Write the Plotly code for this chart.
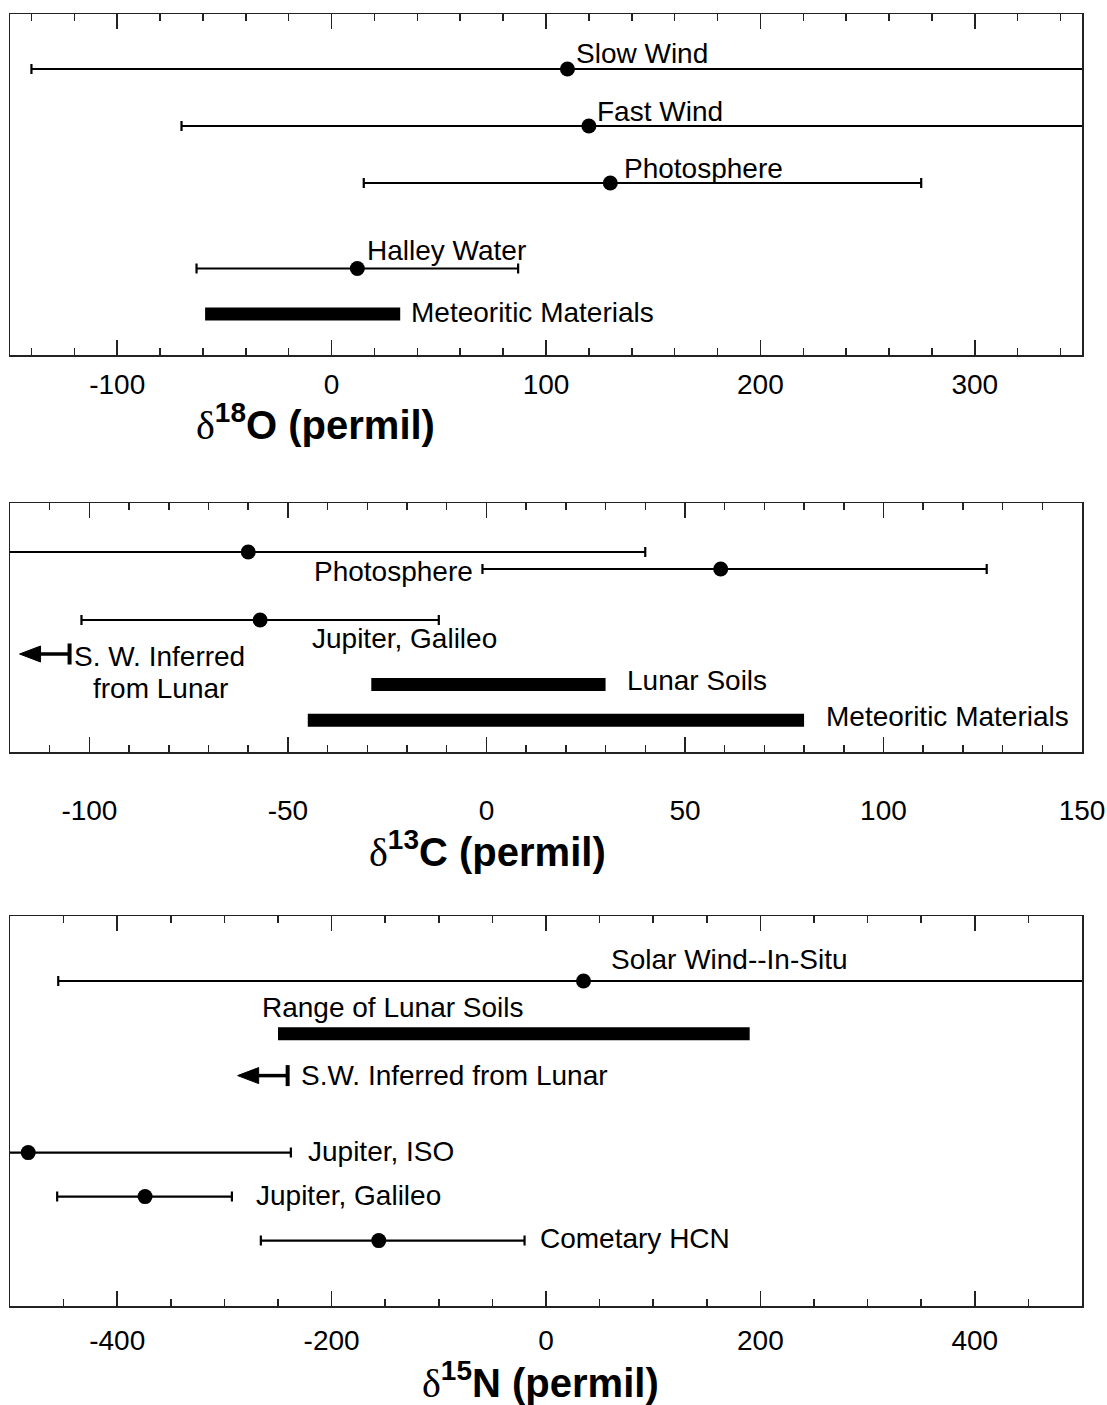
import plotly.graph_objects as go

FONT = "Liberation Sans, Arial, sans-serif"

# ---------------- Panel 1: delta 18O ----------------
o_names = ["Slow Wind", "Fast Wind", "Photosphere", "Halley Water"]
o_values = [110, 120, 130, 12]
o_err_minus = [250, 190, 115, 75]
o_err_plus = [250, 250, 145, 75]
o_lanes = [1, 2, 3, 4.5]
o_range_names = ["Meteoritic Materials"]
o_range_lo = [-59]
o_range_hi = [32]
o_range_lanes = [5.3]
o_ticks = [-100, 0, 100, 200, 300]

# ---------------- Panel 2: delta 13C ----------------
c_names = ["", "Photosphere", "Jupiter, Galileo"]
c_values = [-60, 59, -57]
c_err_minus = [100, 60, 45]
c_err_plus = [100, 67, 45]
c_lanes = [1, 1.5, 3]
c_limit_names = ["S. W. Inferred", "from Lunar"]
c_limit_values = [-105]
c_limit_lanes = [4]
c_range_names = ["Lunar Soils", "Meteoritic Materials"]
c_range_lo = [-29, -45]
c_range_hi = [30, 80]
c_range_lanes = [4.9, 5.95]
c_ticks = [-100, -50, 0, 50, 100, 150]

# ---------------- Panel 3: delta 15N ----------------
n_names = ["Solar Wind--In-Situ", "Jupiter, ISO", "Jupiter, Galileo", "Cometary HCN"]
n_values = [35, -483, -374, -156]
n_err_minus = [490, 245, 82, 110]
n_err_plus = [490, 245, 81, 136]
n_lanes = [1, 4.9, 5.9, 6.9]
n_range_names = ["Range of Lunar Soils"]
n_range_lo = [-250]
n_range_hi = [190]
n_range_lanes = [2.2]
n_limit_names = ["S.W. Inferred from Lunar"]
n_limit_values = [-241]
n_limit_lanes = [3.15]
n_ticks = [-400, -200, 0, 200, 400]

# ---------------- layout geometry (page pixels) ----------------
FW, FH = 1107, 1405
LEFT, RIGHT = 10, 1082
DELTA = "<span style='font-family:Liberation Serif;font-weight:normal'>δ</span>"
panels = [
    dict(xr=[-150, 350], ticks=o_ticks, minor=20, top=14, bottom=355, yr=[6.018, 0.035],
         standoff=4, title=DELTA + "<b><sup>18</sup>O (permil)</b>", tx=315, ty=422),
    dict(xr=[-120, 150], ticks=c_ticks, minor=10, top=503, bottom=752, yr=[6.882, -0.441],
         standoff=33, title=DELTA + "<b><sup>13</sup>C (permil)</b>", tx=488, ty=849),
    dict(xr=[-500, 500], ticks=n_ticks, minor=50, top=916, bottom=1306, yr=[8.386, -0.477],
         standoff=9, title=DELTA + "<b><sup>15</sup>N (permil)</b>", tx=540, ty=1380),
]

def ppx(p):
    return (RIGHT - LEFT) / (p["xr"][1] - p["xr"][0])

def ppl(p):
    return (p["bottom"] - p["top"]) / (p["yr"][0] - p["yr"][1])

fig = go.Figure()
AX = ["x", "x2", "x3"]
AY = ["y", "y2", "y3"]

def add_points(i, vals, lanes, em, ep):
    fig.add_trace(go.Scatter(
        x=vals, y=lanes, mode="markers", xaxis=AX[i], yaxis=AY[i],
        marker=dict(size=15, color="black"),
        error_x=dict(type="data", symmetric=False, array=ep, arrayminus=em,
                     thickness=2.2, width=5, color="black"),
        hoverinfo="skip"))

def add_ranges(i, lo, hi, lanes):
    for a, b, l in zip(lo, hi, lanes):
        fig.add_trace(go.Scatter(
            x=[a, b], y=[l, l], mode="lines", xaxis=AX[i], yaxis=AY[i],
            line=dict(color="black", width=13), hoverinfo="skip"))

def add_limits(i, vals, lanes):
    p = panels[i]
    length = 50 / ppx(p)
    head = 21 / ppx(p)
    half = 8 / ppl(p)
    for v, l in zip(vals, lanes):
        tip = v - length
        base = tip + head
        fig.add_trace(go.Scatter(
            x=[v, base], y=[l, l], mode="lines", xaxis=AX[i], yaxis=AY[i],
            line=dict(color="black", width=3.5), hoverinfo="skip"))
        fig.add_trace(go.Scatter(
            x=[tip, base, base, tip], y=[l, l - half, l + half, l], mode="lines",
            fill="toself", fillcolor="black", xaxis=AX[i], yaxis=AY[i],
            line=dict(color="black", width=1), hoverinfo="skip"))
        fig.add_trace(go.Scatter(
            x=[v], y=[l], mode="markers", xaxis=AX[i], yaxis=AY[i],
            marker=dict(symbol="line-ns", size=15, line=dict(width=4, color="black")),
            hoverinfo="skip"))

add_points(0, o_values, o_lanes, o_err_minus, o_err_plus)
add_ranges(0, o_range_lo, o_range_hi, o_range_lanes)

add_points(1, c_values, c_lanes, c_err_minus, c_err_plus)
add_ranges(1, c_range_lo, c_range_hi, c_range_lanes)
add_limits(1, c_limit_values, c_limit_lanes)

add_points(2, n_values, n_lanes, n_err_minus, n_err_plus)
add_ranges(2, n_range_lo, n_range_hi, n_range_lanes)
add_limits(2, n_limit_values, n_limit_lanes)

# ---------------- text labels ----------------
LBL = 28
labels = [
    (0, o_names[0], 113, 0.72, "left"),
    (0, o_names[1], 123, 1.74, "left"),
    (0, o_names[2], 135.5, 2.74, "left"),
    (0, o_names[3], 15.5, 4.18, "left"),
    (0, o_range_names[0], 36, 5.28, "left"),
    (1, c_names[1], -3, 1.56, "right"),
    (1, c_names[2], -44.5, 3.53, "left"),
    (1, c_limit_names[0], -104.3, 4.06, "left"),
    (1, c_limit_names[1], -82.2, 5.0, "center"),
    (1, c_range_names[0], 35, 4.78, "left"),
    (1, c_range_names[1], 85, 5.83, "left"),
    (2, n_names[0], 58.8, 0.52, "left"),
    (2, n_range_names[0], -267, 1.61, "left"),
    (2, n_limit_names[0], -230.5, 3.15, "left"),
    (2, n_names[1], -224, 4.88, "left"),
    (2, n_names[2], -272.5, 5.88, "left"),
    (2, n_names[3], -7.5, 6.85, "left"),
]
annotations = []
for i, t, x, y, xa in labels:
    annotations.append(dict(text=t, x=x, y=y, xref=AX[i], yref=AY[i], xanchor=xa,
                            yanchor="middle", showarrow=False,
                            font=dict(family=FONT, size=LBL, color="black")))
for p in panels:
    annotations.append(dict(text=p["title"], x=p["tx"] / FW, y=1 - p["ty"] / FH,
                            xref="paper", yref="paper", xanchor="center", yanchor="middle",
                            showarrow=False, font=dict(family=FONT, size=40, color="black")))

layout = dict(width=FW, height=FH, margin=dict(l=0, r=0, t=0, b=0),
              plot_bgcolor="white", paper_bgcolor="white", showlegend=False,
              annotations=annotations)
LC = "#222222"
for i, p in enumerate(panels):
    xs = "xaxis" if i == 0 else f"xaxis{i+1}"
    ys = "yaxis" if i == 0 else f"yaxis{i+1}"
    layout[xs] = dict(domain=[LEFT / FW, RIGHT / FW], anchor=AY[i], range=p["xr"],
                      tickmode="array", tickvals=p["ticks"], ticktext=[str(v) for v in p["ticks"]],
                      ticks="inside", ticklen=15, tickwidth=1.5, tickcolor=LC,
                      minor=dict(tickmode="linear", dtick=p["minor"], tick0=0, ticks="inside",
                                 ticklen=7, tickwidth=1.5, tickcolor=LC, showgrid=False),
                      showline=True, linecolor=LC, linewidth=1.5, mirror="ticks",
                      showgrid=False, zeroline=False, automargin=False, fixedrange=True,
                      ticklabelstandoff=p["standoff"],
                      tickfont=dict(family=FONT, size=LBL, color="black"))
    layout[ys] = dict(domain=[1 - p["bottom"] / FH, 1 - p["top"] / FH],
                      anchor=AX[i], range=p["yr"], showline=True, linecolor=LC, linewidth=1.5,
                      mirror=True, ticks="", showticklabels=False, showgrid=False,
                      zeroline=False, automargin=False, fixedrange=True)

fig.update_layout(**layout)
fig.write_html("out.html", config={"displayModeBar": False, "staticPlot": True},
               post_script="document.body.style.margin='0';document.body.style.overflow='hidden';")
